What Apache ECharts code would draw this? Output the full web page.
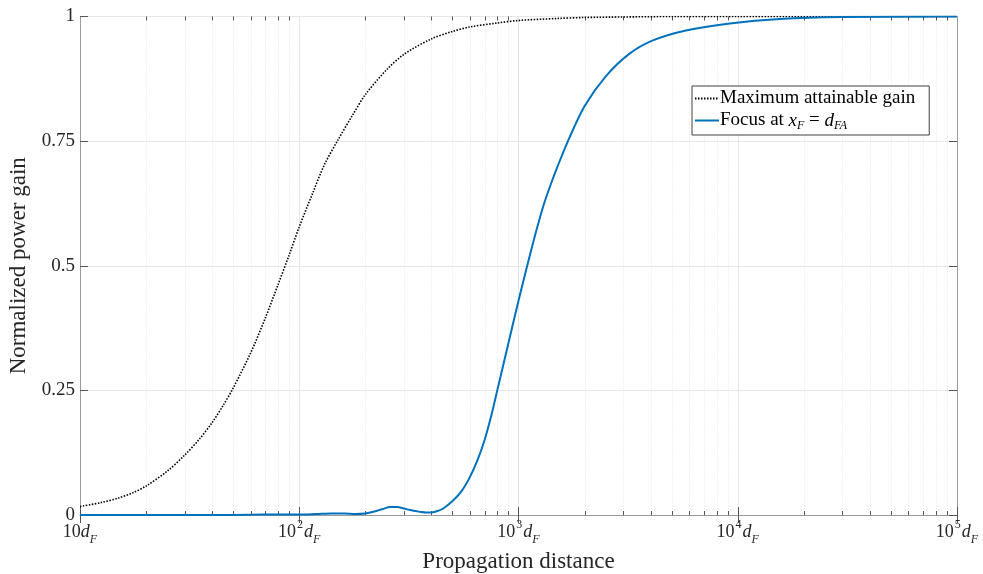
<!DOCTYPE html>
<html><head><meta charset="utf-8">
<script src="https://cdn.jsdelivr.net/npm/echarts@6/dist/echarts.min.js"></script>
<style>html,body{margin:0;padding:0;background:#fff}#c{width:983px;height:574px}</style>
</head><body><div id="c"></div>
<script>
// ---- data ----
const maxGainX = [10, 12.5, 15, 17.5, 20, 25, 30, 35, 40, 45, 50, 60, 70, 80, 90, 100, 115, 130, 150, 175, 200, 250, 300, 400, 500, 600, 800, 1000, 1500, 2000, 3000, 5000, 10000, 100000];
const maxGainY = [0.017, 0.025, 0.034, 0.045, 0.058, 0.088, 0.12, 0.152, 0.185, 0.22, 0.255, 0.325, 0.395, 0.462, 0.522, 0.578, 0.645, 0.702, 0.752, 0.802, 0.843, 0.893, 0.924, 0.955, 0.970, 0.979, 0.987, 0.992, 0.996, 0.998, 0.999, 1.0, 1.0, 1.0];
const focusX = [10, 20, 40, 60, 80, 100, 120, 140, 160, 180, 200, 220, 240, 260, 280, 300, 320, 340, 360, 380, 400, 420, 450, 500, 550, 600, 650, 700, 750, 800, 900, 1000, 1100, 1200, 1300, 1400, 1500, 1700, 2000, 2500, 3200, 4100, 5800, 9200, 15600, 30000, 100000];
const focusY = [0, 0, 0, 0.0005, 0.001, 0.001, 0.002, 0.003, 0.003, 0.002, 0.003, 0.007, 0.012, 0.016, 0.016, 0.013, 0.010, 0.008, 0.006, 0.005, 0.005, 0.007, 0.012, 0.028, 0.048, 0.076, 0.11, 0.15, 0.198, 0.25, 0.345, 0.43, 0.503, 0.567, 0.621, 0.662, 0.697, 0.755, 0.82, 0.88, 0.925, 0.952, 0.972, 0.986, 0.995, 0.999, 1.0];
const yTicks = [0, 0.25, 0.5, 0.75, 1];
const xMin = 10, xMax = 100000;
const xMinorTicks = [20,30,40,50,60,70,80,90,200,300,400,500,600,700,800,900,2000,3000,4000,5000,6000,7000,8000,9000,20000,30000,40000,50000,60000,70000,80000,90000];
const seriesNames = ['Maximum attainable gain', 'Focus at x_F = d_FA'];
const xTitle = 'Propagation distance';
const yTitle = 'Normalized power gain';

// ---- chart ----
const FONT = '"Liberation Serif", "DejaVu Serif", serif';
const zip = (xs, ys) => xs.map((x, i) => [x, ys[i]]);
const chart = echarts.init(document.getElementById('c'), null, {renderer: 'canvas'});

const TC = '#262626';
const xRich = {
  n: {fontFamily: FONT, fontSize: 18, color: TC, lineHeight: 18, padding: [4,0,0,0], verticalAlign: 'top'},
  i: {fontFamily: FONT, fontSize: 18, fontStyle: 'italic', color: TC, lineHeight: 18, padding: [4,0,0,0], verticalAlign: 'top'},
  sup: {fontFamily: FONT, fontSize: 12, color: TC, lineHeight: 12, padding: [0,1,0,1], verticalAlign: 'top'},
  sub: {fontFamily: FONT, fontSize: 12, fontStyle: 'italic', color: TC, lineHeight: 12, padding: [15,0,0,0], verticalAlign: 'top'}
};
const legRich = {
  n: {fontFamily: FONT, fontSize: 19, color: '#000', lineHeight: 19, padding: [0,0,0,0], verticalAlign: 'top'},
  i: {fontFamily: FONT, fontSize: 19, fontStyle: 'italic', color: '#000', lineHeight: 19, padding: [0,0,0,0], verticalAlign: 'top'},
  s: {fontFamily: FONT, fontSize: 12, fontStyle: 'italic', color: '#000', lineHeight: 12, padding: [9,0,0,0], verticalAlign: 'top'}
};

const axisLineColor = '#9a9a9a';
const tickColor = '#555';

chart.setOption({
  animation: false,
  backgroundColor: '#fff',
  grid: {left: 80, right: 26, top: 16.5, bottom: 59, containLabel: false, outerBoundsMode: 'none'},
  legend: {
    orient: 'vertical', left: 692, top: 86,
    data: seriesNames,
    backgroundColor: '#fff', borderColor: '#404040', borderWidth: 1, borderRadius: 0,
    padding: [3, 14, 3, 2], itemGap: 3, itemWidth: 24, itemHeight: 12,
    itemStyle: {color: 'rgba(0,0,0,0)', borderColor: 'rgba(0,0,0,0)', borderWidth: 0, opacity: 0},
    textStyle: {fontFamily: FONT, fontSize: 19, color: '#000', rich: legRich, padding: [0,0,0,-4]},
    formatter: name => name === seriesNames[0]
      ? '{n|Maximum attainable gain}'
      : '{n|Focus at }{i|x}{s|F}{n| = }{i|d}{s|FA}'
  },
  xAxis: [{
    type: 'log', logBase: 10, min: xMin, max: xMax,
    name: xTitle, nameLocation: 'middle', nameGap: 28,
    nameTextStyle: {fontFamily: FONT, fontSize: 23, color: TC},
    axisLine: {show: true, lineStyle: {color: axisLineColor, width: 1}},
    axisTick: {show: true, inside: true, length: 8, lineStyle: {color: tickColor}},
    axisLabel: {
      margin: 4,
      rich: xRich,
      formatter: v => {
        const e = Math.round(Math.log10(v));
        return e === 1 ? '{n|10}{i|d}{sub|F}' : '{n|10}{sup|' + e + '}{i|d}{sub|F}';
      }
    },
    splitLine: {show: true, lineStyle: {color: '#e6e6e6', width: 1}},
    minorTick: {show: false}, minorSplitLine: {show: false}
  }, {
    type: 'log', logBase: 10, min: xMin, max: xMax, position: 'top',
    axisLine: {show: true, lineStyle: {color: axisLineColor, width: 1}},
    axisTick: {show: true, inside: true, length: 8, lineStyle: {color: tickColor}},
    axisLabel: {show: false}, splitLine: {show: false}
  }],
  yAxis: [{
    type: 'value', min: yTicks[0], max: yTicks[yTicks.length - 1], interval: yTicks[1] - yTicks[0],
    name: yTitle, nameLocation: 'middle', nameGap: 45,
    nameTextStyle: {fontFamily: FONT, fontSize: 23, color: TC},
    axisLine: {show: true, lineStyle: {color: axisLineColor, width: 1}},
    axisTick: {show: true, inside: true, length: 8, lineStyle: {color: tickColor}},
    axisLabel: {margin: 5, fontFamily: FONT, fontSize: 19, color: TC, formatter: v => String(v)},
    splitLine: {show: true, lineStyle: {color: '#e6e6e6', width: 1}}
  }, {
    type: 'value', min: yTicks[0], max: yTicks[yTicks.length - 1], interval: yTicks[1] - yTicks[0], position: 'right',
    axisLine: {show: true, lineStyle: {color: axisLineColor, width: 1}},
    axisTick: {show: true, inside: true, length: 8, lineStyle: {color: tickColor}},
    axisLabel: {show: false}, splitLine: {show: false}
  }],
  series: [{
    type: 'custom', name: 'minor', z: 1, silent: true,
    xAxisIndex: 0, yAxisIndex: 0,
    data: xMinorTicks.map(v => [v, 0]),
    encode: {x: 0, y: 1},
    renderItem: (params, api) => {
      const x = Math.round(api.coord([api.value(0), 0])[0]) + 0.5;
      const cs = params.coordSys;
      const yb = cs.y + cs.height, yt = cs.y;
      return {type: 'group', children: [
        {type: 'line', shape: {x1: x, y1: yt, x2: x, y2: yb}, style: {stroke: '#e2e2e2', lineWidth: 1, lineDash: [1, 2]}},
        {type: 'line', shape: {x1: x, y1: yb, x2: x, y2: yb - 4}, style: {stroke: tickColor, lineWidth: 1}},
        {type: 'line', shape: {x1: x, y1: yt, x2: x, y2: yt + 4}, style: {stroke: tickColor, lineWidth: 1}}
      ]};
    }
  }, {
    type: 'line', name: seriesNames[0], z: 3,
    data: zip(maxGainX, maxGainY),
    smooth: 0.3, showSymbol: false, symbol: 'none',
    lineStyle: {color: '#000', width: 1.6, type: [1.5, 1.5]},
    itemStyle: {color: '#000'}
  }, {
    type: 'line', name: seriesNames[1], z: 4,
    data: zip(focusX, focusY),
    smooth: 0.3, showSymbol: false, symbol: 'none',
    lineStyle: {color: '#0072BD', width: 2},
    itemStyle: {color: '#0072BD'}
  }]
});
</script>
</body></html>
